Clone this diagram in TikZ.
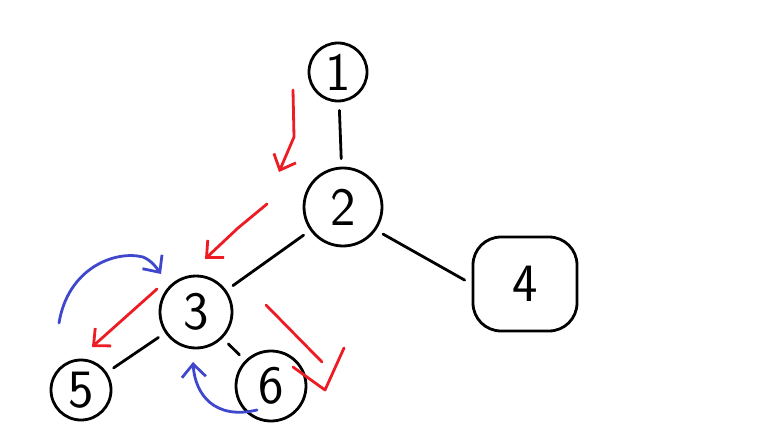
\documentclass[tikz,border=0pt]{standalone}
\usepackage{tikz}
\usetikzlibrary{arrows.meta}
\definecolor{paintred}{RGB}{237,28,36}
\definecolor{paintblue}{RGB}{63,72,204}
\tikzset{
  >={Straight Barb[length=13pt,width=24pt]},
}
\tikzstyle{every node}=[font=\fontsize{54}{54}\selectfont\sffamily]
\tikzstyle{vertex}=[draw,circle,line width=2.8pt,inner sep=0pt]
\tikzstyle{edge}=[line width=2.8pt,shorten <=8pt,shorten >=8pt]
\tikzstyle{descend}=[paintred,line width=2.8pt,->]
\tikzstyle{climb}=[paintblue,line width=2.8pt,->]

\begin{document}
\begin{tikzpicture}[x=1pt,y=-1pt,line cap=round,line join=round]
    \useasboundingbox (0,0) rectangle (767,438);

    \node[vertex,minimum size=58pt] (n1) at (338,72) {1};
    \node[vertex,minimum size=78pt] (n2) at (343,207) {2};
    \node[vertex,minimum size=72pt] (n3) at (196,312) {3};
    \node[vertex,rectangle,rounded corners=28pt,minimum width=104pt,
      minimum height=94pt] (n4) at (525,284) {4};
    \node[vertex,minimum size=60pt] (n5) at (81,390) {5};
    \node[vertex,minimum size=70pt] (n6) at (271,386) {6};

    \draw[edge] (n1)--(n2);
    \draw[edge] (n2)--(n3);
    \draw[edge] (n2.-35)--(n4.west);
    \draw[edge] (n3)--(n5);
    \draw[edge] (n3)--(n6);

    % going down
    \draw[descend] (293,90)--(294,137)--(279,172);
    \draw[descend] (267,204)--(238,228)--(205,259);
    \draw[descend] (157,289)--(92,347);
    \draw[paintred,line width=2.8pt] (266,305)--(322,362);
    \draw[paintred,line width=2.8pt] (293,367)--(325,390)--(344,348);

    % coming back
    \draw[climb] (59,323) .. controls (68,268) and (115,250) .. (143,257)
      .. controls (152,261) and (156,267) .. (161,274);
    \draw[climb] (257,410) .. controls (215,420) and (195,395) .. (193,362);
  \end{tikzpicture}
\end{document}
